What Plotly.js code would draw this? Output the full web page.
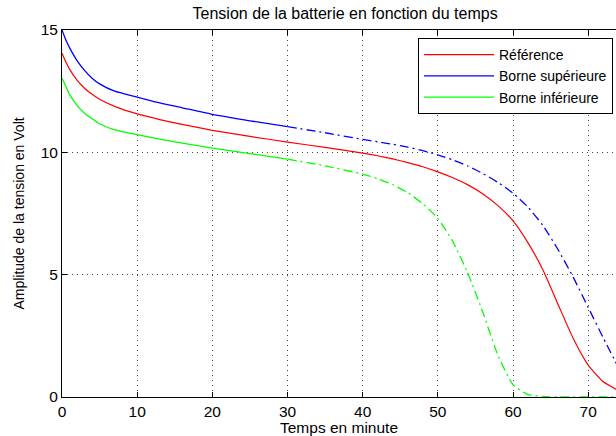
<!DOCTYPE html>
<html>
<head>
<meta charset="utf-8">
<script src="https://cdn.plot.ly/plotly-3.0.1.min.js"></script>
<style>html,body{margin:0;padding:0;background:#fff;}#chart{width:616px;height:436px;}</style>
</head>
<body>
<div id="chart"></div>
<script>
// Time in minutes
const temps = [0, 0.5, 1, 2, 3, 4, 5, 7, 10, 13, 16, 20, 25, 30, 35, 40, 42, 44, 46, 48, 50, 52, 54, 56, 58, 60, 62, 64, 66, 68, 70, 72, 74];
// Voltage series (Volt)
const reference = [14.05, 13.7, 13.4, 12.95, 12.62, 12.37, 12.17, 11.88, 11.57, 11.34, 11.14, 10.9, 10.65, 10.42, 10.2, 9.97, 9.86, 9.73, 9.58, 9.41, 9.2, 8.96, 8.67, 8.3, 7.82, 7.2, 6.3, 5.18, 3.78, 2.4, 1.3, 0.62, 0.27];
const borneSup = [15.0, 14.6, 14.28, 13.75, 13.35, 13.03, 12.8, 12.5, 12.26, 12.02, 11.82, 11.55, 11.29, 11.05, 10.8, 10.53, 10.43, 10.33, 10.21, 10.07, 9.9, 9.69, 9.44, 9.13, 8.77, 8.33, 7.76, 7.0, 6.02, 4.9, 3.66, 2.42, 1.22];
const borneInf = [13.03, 12.7, 12.37, 11.92, 11.6, 11.37, 11.17, 10.92, 10.72, 10.54, 10.38, 10.17, 9.95, 9.72, 9.45, 9.11, 8.92, 8.68, 8.35, 7.9, 7.3, 6.35, 5.05, 3.45, 1.7, 0.5, 0.1, 0.02, 0, 0, 0, 0, 0];
const seriesNames = ['Référence', 'Borne supérieure', 'Borne inférieure'];
const xTicks = [0, 10, 20, 30, 40, 50, 60, 70];
const yTicks = [0, 5, 10, 15];
const splitTime = 30; // solid before, dash-dot after for the bounds

const fontFam = 'Liberation Sans, Arial, Helvetica, sans-serif';
const iSplit = temps.indexOf(splitTime);
const dashDot = '9px,4px,2px,4px';

const traces = [
  {x: temps, y: reference, name: seriesNames[0], mode: 'lines', line: {color: '#ff0000', width: 1.2}, legendrank: 1},
  {x: temps.slice(0, iSplit + 1), y: borneSup.slice(0, iSplit + 1), name: seriesNames[1], mode: 'lines', line: {color: '#0000ff', width: 1.3}, legendrank: 2},
  {x: temps.slice(iSplit), y: borneSup.slice(iSplit), name: seriesNames[1], mode: 'lines', line: {color: '#0000ff', width: 1.3, dash: dashDot}, showlegend: false},
  {x: temps.slice(0, iSplit + 1), y: borneInf.slice(0, iSplit + 1), name: seriesNames[2], mode: 'lines', line: {color: '#00ff00', width: 1.3}, legendrank: 3},
  {x: temps.slice(iSplit), y: borneInf.slice(iSplit), name: seriesNames[2], mode: 'lines', line: {color: '#00ff00', width: 1.3, dash: dashDot}, showlegend: false}
];
traces.forEach(t => { t.line.shape = 'spline'; t.line.smoothing = 0.5; });

const layout = {
  width: 616, height: 436,
  margin: {l: 62, r: 0, t: 30, b: 39},
  paper_bgcolor: '#ffffff', plot_bgcolor: '#ffffff',
  font: {family: fontFam, size: 15, color: '#000'},
  title: {text: 'Tension de la batterie en fonction du temps', x: 0.511, xref: 'paper', xanchor: 'center', y: 0.983, yanchor: 'top', font: {size: 16}},
  xaxis: {
    range: [0, 73.7], tickvals: xTicks, ticktext: xTicks.map(String),
    showline: true, linecolor: '#000', linewidth: 1, mirror: 'ticks',
    ticks: 'inside', ticklen: 5, tickcolor: '#000',
    showgrid: true, gridcolor: '#444', griddash: '1px,4px', gridwidth: 1,
    zeroline: false, tickfont: {size: 15.5},
    title: {text: 'Temps en minute', font: {size: 15.5}, standoff: 0}
  },
  yaxis: {
    range: [0, 15], tickvals: yTicks, ticktext: yTicks.map(String),
    showline: true, linecolor: '#000', linewidth: 1, mirror: false,
    ticks: 'inside', ticklen: 5, tickcolor: '#000',
    showgrid: true, gridcolor: '#444', griddash: '1px,4px', gridwidth: 1,
    zeroline: false, tickfont: {size: 15.5},
    title: {text: 'Amplitude de la tension en Volt', font: {size: 14}, standoff: 12}
  },
  legend: {
    x: 0.9946, xanchor: 'right', y: 0.978, yanchor: 'top',
    bordercolor: '#000', borderwidth: 1, bgcolor: '#fff',
    font: {size: 14}, tracegroupgap: 0, itemwidth: 70
  },
  showlegend: true
};

Plotly.newPlot('chart', traces, layout, {staticPlot: true, displayModeBar: false});
</script>
</body>
</html>
